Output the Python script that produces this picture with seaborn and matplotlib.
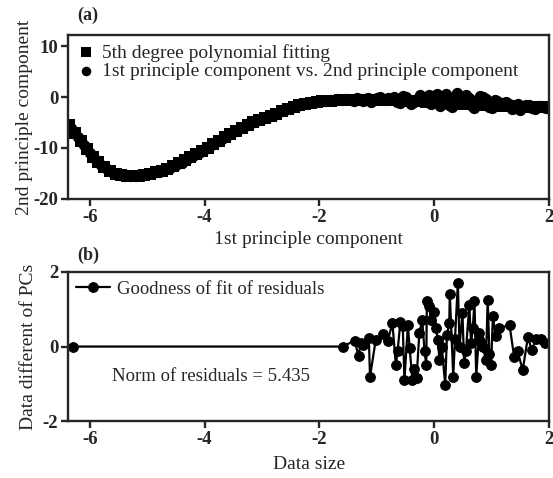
import numpy as np
import pandas as pd
import seaborn as sns
import matplotlib.pyplot as plt

# (a) 5th degree polynomial fit
fit_x = [-6.36, -6.25, -6.15, -6.05, -5.95, -5.85, -5.75, -5.65, -5.55, -5.45,
         -5.35, -5.25, -5.15, -5.05, -4.95, -4.85, -4.75, -4.65, -4.55, -4.45,
         -4.35, -4.25, -4.15, -4.05, -3.95, -3.85, -3.75, -3.65, -3.55, -3.45,
         -3.35, -3.25, -3.15, -3.05, -2.95, -2.85, -2.75, -2.65, -2.55, -2.45,
         -2.35, -2.25, -2.15, -2.05, -1.95, -1.8, -1.65, -1.5, -1.35, -1.2,
         -1.05, -0.9, -0.75, -0.6, -0.45, -0.3, -0.15, 0.0, 0.15, 0.3,
         0.45, 0.6, 0.75, 0.9, 1.05, 1.2, 1.35, 1.5, 1.65, 1.8, 1.95]
fit_y = [-5.5, -7.0, -8.6, -10.2, -11.7, -12.8, -13.8, -14.6, -15.1, -15.4,
         -15.6, -15.6, -15.5, -15.3, -15.1, -14.8, -14.5, -14.1, -13.6, -13.0,
         -12.4, -11.8, -11.2, -10.6, -10.0, -9.3, -8.6, -7.9, -7.2, -6.6,
         -6.0, -5.4, -4.9, -4.5, -4.1, -3.7, -3.3, -2.8, -2.4, -1.9,
         -1.5, -1.3, -1.1, -0.9, -0.8, -0.7, -0.6, -0.5, -0.5, -0.5,
         -0.5, -0.5, -0.6, -0.6, -0.7, -0.8, -0.9, -1.0, -1.1, -1.2,
         -1.3, -1.4, -1.5, -1.6, -1.7, -1.8, -1.85, -1.9, -1.95, -2.0, -2.05]

# (a) 1st vs 2nd principal component points
pc_x = [-6.33, -6.2, -6.1, -6.0, -5.9, -5.8, -5.7, -5.6, -5.5, -5.4,
        -5.3, -5.2, -5.1, -5.0, -4.9, -4.8, -4.7, -4.6, -4.5, -4.4,
        -4.3, -4.2, -4.1, -4.0, -3.9, -3.8, -3.7, -3.6, -3.5, -3.4,
        -3.3, -3.2, -3.1, -3.0, -2.9, -2.8, -2.7, -2.6, -2.5, -2.4,
        -2.3, -2.2, -2.1, -2.0, -1.9, -1.8, -1.7, -1.6, -1.5, -1.4,
        -1.3, -1.2, -1.1, -1.0, -0.9, -0.8, -0.7, -0.6, -0.5, -0.4,
        -0.3, -0.2, -0.1, 0.0, 0.1, 0.2, 0.3, 0.4, 0.5, 0.6,
        0.7, 0.8, 0.9, 1.0, 1.1, 1.2, 1.3, 1.4, 1.5, 1.6,
        1.7, 1.8, 1.9, 2.0,
        -1.55, -1.45, -1.35, -1.25, -1.15, -1.05, -0.95, -0.85, -0.75, -0.65,
        -0.55, -0.45, -0.35, -0.25, -0.15, -0.05, 0.05, 0.15, 0.25, 0.35,
        0.45, 0.55, 0.65, 0.75, 0.85, 0.95, 1.05, 1.15, 1.25, 1.35,
        1.45, 1.55, 1.65, 1.75, 1.85, 1.95]
pc_y = [-6.0, -7.9, -9.5, -11.0, -12.3, -13.4, -14.2, -14.9, -15.3, -15.5,
        -15.6, -15.5, -15.4, -15.2, -15.0, -14.7, -14.4, -14.0, -13.4, -12.9,
        -12.2, -11.6, -11.0, -10.3, -9.7, -8.9, -8.3, -7.5, -6.9, -6.3,
        -5.7, -5.1, -4.7, -4.3, -3.9, -3.5, -3.0, -2.6, -2.2, -1.8,
        -1.4, -1.2, -1.0, -0.8, -0.7, -0.6, -0.4, -0.6, -0.3, -0.7,
        -0.4, -0.3, -1.0, -0.2, -0.4, -0.2, 0.1, -1.1, 0.1, -1.3,
        -0.4, -0.8, 0.4, -0.1, -1.8, 0.5, -2.0, 0.7, -0.4, -0.1,
        -2.1, 0.2, -0.3, -2.2, -0.8, -1.2, -1.3, -2.1, -2.5, -1.6,
        -2.1, -1.7, -1.9, -2.1,
        -0.3, -0.6, -0.2, -0.7, -0.1, -0.5, 0.0, -0.6, -0.3, -0.9,
        0.2, -0.5, -1.0, 0.3, -0.2, -1.4, 0.6, -0.6, -1.5, 0.1,
        -1.0, 0.3, -1.7, -0.6, 0.0, -1.9, -0.5, -1.6, -1.0, -2.4,
        -1.4, -2.0, -1.5, -2.3, -1.8, -2.2]

# (b) residuals
res_x = [-6.3, -1.59, -1.39, -1.32, -1.25, -1.14, -1.12, -1.02, -0.9, -0.81,
         -0.73, -0.67, -0.64, -0.59, -0.52, -0.46, -0.43, -0.38, -0.31, -0.26,
         -0.21, -0.17, -0.14, -0.13, -0.09, -0.06, 0.0, 0.03, 0.06, 0.13,
         0.19, 0.26, 0.27, 0.33, 0.41, 0.44, 0.49, 0.55, 0.61, 0.67,
         0.70, 0.73, 0.78, 0.84, 0.90, 0.93, 0.99, 1.02, 1.07, 1.13,
         1.31, 1.39, 1.45, 1.54, 1.63, 1.7, 1.77, 1.85, 1.92,
         -1.28, -0.55, -0.35, 0.09, 0.22, 0.36, 0.52, 0.64, 0.8, 0.96]
res_y = [0.0, 0.0, 0.16, -0.25, 0.05, 0.22, -0.81, 0.18, 0.34, 0.16,
         0.63, -0.49, -0.13, 0.67, -0.9, 0.58, -0.04, -0.9, -0.85, 0.36,
         0.72, -0.13, -0.49, 1.21, 1.08, 0.72, 0.94, 0.49, 0.18, 0.0,
         -1.03, 0.63, 1.42, -0.81, 1.7, 0.0, 0.9, -0.13, 1.12, 0.49,
         1.21, -0.81, 0.36, 0.0, -0.36, 1.26, -0.49, 0.81, 0.27, 0.49,
         0.58, -0.27, -0.13, -0.63, 0.25, -0.1, 0.2, 0.2, 0.1,
         0.1, 0.55, -0.6, -0.35, 0.3, 0.2, -0.45, 0.1, 0.15, -0.2]

sns.set_style("ticks")
plt.rcParams['font.family'] = ['Liberation Serif', 'DejaVu Serif']
plt.rcParams['axes.unicode_minus'] = False
plt.rcParams['axes.linewidth'] = 1.7
plt.rcParams['xtick.major.width'] = 1.7
plt.rcParams['ytick.major.width'] = 1.7
plt.rcParams['xtick.major.size'] = 5
plt.rcParams['ytick.major.size'] = 5

fig = plt.figure(figsize=(5.53, 4.78), dpi=100)
ax1 = fig.add_axes([0.123, 0.584, 0.870, 0.343])
ax2 = fig.add_axes([0.123, 0.119, 0.870, 0.312])

fit_df = pd.DataFrame({'x': fit_x, 'y': fit_y})
pc_df = pd.DataFrame({'x': pc_x, 'y': pc_y})
res_df = pd.DataFrame({'x': res_x, 'y': res_y})

sns.scatterplot(data=fit_df, x='x', y='y', marker='s', s=66, color='black',
                edgecolor='black', linewidth=0, label='5th degree polynomial fitting', ax=ax1)
sns.scatterplot(data=pc_df, x='x', y='y', marker='o', s=66, color='black',
                edgecolor='black', linewidth=0,
                label='1st principle component vs. 2nd principle component', ax=ax1)
ax1.set_xlim(-6.38, 2)
ax1.set_ylim(-20, 12.2)
ax1.set_xticks([-6, -4, -2, 0, 2])
ax1.set_yticks([-20, -10, 0, 10])
ax1.set_xlabel('1st principle component', fontsize=14, labelpad=4)
ax1.set_ylabel('2nd principle component', fontsize=14, labelpad=0)
ax1.tick_params(labelsize=13.5, pad=2)
for t in ax1.get_xticklabels() + ax1.get_yticklabels():
    t.set_fontweight('bold')
ax1.legend(loc='upper left', frameon=False, fontsize=14, handletextpad=0.3,
           borderaxespad=0.05, labelspacing=0.05, markerscale=0.85, handlelength=1.0)

sns.lineplot(data=res_df, x='x', y='y', marker='o', markersize=7, color='black',
             markeredgecolor='black', linewidth=1.6, sort=True,
             label='Goodness of fit of residuals', ax=ax2)
ax2.set_xlim(-6.38, 2)
ax2.set_ylim(-2, 2)
ax2.set_xticks([-6, -4, -2, 0, 2])
ax2.set_yticks([-2, 0, 2])
ax2.set_xlabel('Data size', fontsize=14, labelpad=6)
ax2.set_ylabel('Data different of PCs', fontsize=14, labelpad=4)
ax2.tick_params(labelsize=13.5, pad=2)
for t in ax2.get_xticklabels() + ax2.get_yticklabels():
    t.set_fontweight('bold')
ax2.legend(loc='upper left', frameon=False, fontsize=13.5, handletextpad=0.35,
           borderaxespad=0.05, handlelength=1.8)
ax2.text(-5.62, -0.8, 'Norm of residuals = 5.435', fontsize=13.5, va='center')

fig.text(0.14, 0.967, '(a)', fontsize=13, fontweight='bold', va='center')
fig.text(0.14, 0.465, '(b)', fontsize=13, fontweight='bold', va='center')

fig.savefig('out.png', dpi=100)
